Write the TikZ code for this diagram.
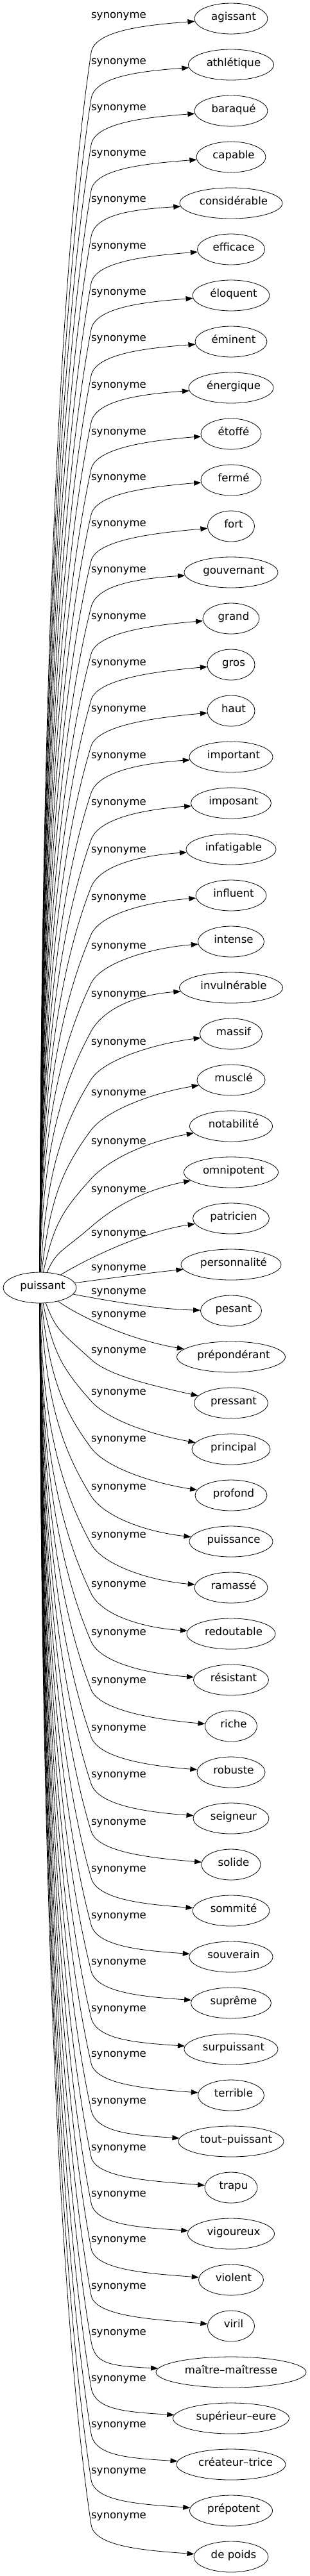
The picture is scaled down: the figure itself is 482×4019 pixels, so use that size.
\documentclass[tikz,border=0pt]{standalone}
\usepackage{fontspec}
\setmainfont{DejaVu Sans}
\usetikzlibrary{shapes.geometric,arrows.meta,calc}
\tikzset{
  every node/.style={font=\fontsize{16.6pt}{20pt}\selectfont},
  syn/.style={draw, ellipse, line width=0.8pt, minimum height=48pt, inner sep=0pt},
  wtxt/.style={inner sep=0pt, text height=0.75em, text depth=0.203em},
  lab/.style={inner sep=0pt, text height=0.75em, text depth=0.203em},
  synedge/.style={line width=0.8pt, -{Triangle[length=11pt,width=8pt]}},
}
% target node: k, width, text, text shift
\newcommand{\tgt}[4]{%
  \node[syn, minimum width=#2pt, label={[wtxt, xshift=#4pt]center:#3}] (n#1) at (360,{29+72*#1}) {};}
% edge label: k, y
\newcommand{\lbl}[2]{\node[lab] (l#1) at (185,#2) {synonyme};}
% generic connector: k, bend y, side (-1 top, 1 bottom)
\newcommand{\gedge}[3]{%
  \pgfmathsetmacro{\yz}{2009+24*#3}%
  \pgfmathsetmacro{\DD}{#3*(#2-\yz)}%
  \pgfmathsetmacro{\ww}{max(0,1-\DD/400)}%
  \pgfmathsetmacro{\cax}{64+31*\ww}%
  \pgfmathsetmacro{\cay}{\yz+#3*0.5*\DD}%
  \pgfmathsetmacro{\tv}{0.15*\DD+30}%
  \pgfmathsetmacro{\cby}{#2-#3*\tv}%
  \pgfmathsetmacro{\ang}{atan2(\tv,47)}%
  \pgfmathsetmacro{\ccx}{142+35*cos(\ang)}%
  \pgfmathsetmacro{\ccy}{#2+#3*35*sin(\ang)}%
  \pgfmathsetmacro{\dyo}{-#3*(10+25*\ww)}%
  \coordinate (b#1) at (142,#2);
  \draw[synedge] (p) .. controls (\cax,\cay) and (95,\cby) .. (b#1)
     .. controls (\ccx,\ccy) and ($(n#1.west)+(-75,\dyo)$) .. (n#1);}
\begin{document}
\begin{tikzpicture}[x=1pt,y=-1pt]
\useasboundingbox (0,0) rectangle (482,4019);
\node[syn, minimum width=114pt, label={[wtxt, xshift=4.5pt]center:puissant}] (p) at (62,2009) {};
\tgt{0}{114}{agissant}{4}
\tgt{1}{133}{athlétique}{4}
\tgt{2}{114}{baraqué}{4}
\tgt{3}{108}{capable}{4}
\tgt{4}{160}{considérable}{4}
\tgt{5}{105}{efficace}{4}
\tgt{6}{120}{éloquent}{4}
\tgt{7}{112}{éminent}{4}
\tgt{8}{132}{énergique}{4}
\tgt{9}{94}{étoffé}{4}
\tgt{10}{94}{fermé}{4}
\tgt{11}{73}{fort}{4}
\tgt{12}{146}{gouvernant}{4}
\tgt{13}{88}{grand}{4}
\tgt{14}{74}{gros}{4}
\tgt{15}{74}{haut}{4}
\tgt{16}{130}{important}{4}
\tgt{17}{125}{imposant}{4}
\tgt{18}{140}{infatigable}{4}
\tgt{19}{110}{influent}{4}
\tgt{20}{103}{intense}{4}
\tgt{21}{161}{invulnérable}{4}
\tgt{22}{97}{massif}{4}
\tgt{23}{106}{musclé}{4}
\tgt{24}{129}{notabilité}{4}
\tgt{25}{147}{omnipotent}{4}
\tgt{26}{119}{patricien}{4}
\tgt{27}{156}{personnalité}{4}
\tgt{28}{95}{pesant}{4}
\tgt{29}{169}{prépondérant}{4}
\tgt{30}{115}{pressant}{4}
\tgt{31}{122}{principal}{4}
\tgt{32}{112}{profond}{4}
\tgt{33}{130}{puissance}{4}
\tgt{34}{114}{ramassé}{4}
\tgt{35}{138}{redoutable}{4}
\tgt{36}{117}{résistant}{4}
\tgt{37}{81}{riche}{4}
\tgt{38}{106}{robuste}{4}
\tgt{39}{118}{seigneur}{4}
\tgt{40}{92}{solide}{4}
\tgt{41}{120}{sommité}{4}
\tgt{42}{130}{souverain}{4}
\tgt{43}{125}{suprême}{4}
\tgt{44}{146}{surpuissant}{4}
\tgt{45}{103}{terrible}{4}
\tgt{46}{164}{tout–puissant}{8}
\tgt{47}{82}{trapu}{4}
\tgt{48}{135}{vigoureux}{4}
\tgt{49}{101}{violent}{4}
\tgt{50}{73}{viril}{4}
\tgt{51}{234}{maître–maîtresse}{0}
\tgt{52}{181}{supérieur–eure}{8}
\tgt{53}{170}{créateur–trice}{7}
\tgt{54}{129}{prépotent}{4}
\tgt{55}{116}{de poids}{4}
% labels
\lbl{0}{26}\lbl{1}{98}\lbl{2}{170}\lbl{3}{241}\lbl{4}{313}\lbl{5}{386}
\lbl{6}{458}\lbl{7}{530}\lbl{8}{603}\lbl{9}{676}\lbl{10}{747}\lbl{11}{819}
\lbl{12}{891}\lbl{13}{964}\lbl{14}{1036}\lbl{15}{1108}\lbl{16}{1181}\lbl{17}{1254}
\lbl{18}{1328}\lbl{19}{1402}\lbl{20}{1478}\lbl{21}{1553}\lbl{22}{1628}\lbl{23}{1707}
\lbl{24}{1783}\lbl{25}{1858}\lbl{26}{1926}\lbl{27}{1980}\lbl{28}{2017}\lbl{29}{2053}
\lbl{30}{2109}\lbl{31}{2174}\lbl{32}{2247}\lbl{33}{2322}\lbl{34}{2397}\lbl{35}{2474}
\lbl{36}{2549}\lbl{37}{2624}\lbl{38}{2698}\lbl{39}{2771}\lbl{40}{2845}\lbl{41}{2918}
\lbl{42}{2991}\lbl{43}{3063}\lbl{44}{3136}\lbl{45}{3207}\lbl{46}{3280}\lbl{47}{3353}
\lbl{48}{3425}\lbl{49}{3496}\lbl{50}{3569}\lbl{51}{3641}\lbl{52}{3713}\lbl{53}{3785}
\lbl{54}{3857}\lbl{55}{3927}
% connectors above
\gedge{0}{82}{-1}\gedge{1}{154}{-1}\gedge{2}{226}{-1}\gedge{3}{297}{-1}
\gedge{4}{369}{-1}\gedge{5}{442}{-1}\gedge{6}{514}{-1}\gedge{7}{586}{-1}
\gedge{8}{659}{-1}\gedge{9}{732}{-1}\gedge{10}{803}{-1}\gedge{11}{875}{-1}
\gedge{12}{947}{-1}\gedge{13}{1020}{-1}\gedge{14}{1092}{-1}\gedge{15}{1164}{-1}
\gedge{16}{1237}{-1}\gedge{17}{1310}{-1}\gedge{18}{1384}{-1}\gedge{19}{1458}{-1}
\gedge{20}{1534}{-1}\gedge{21}{1609}{-1}\gedge{22}{1684}{-1}\gedge{23}{1763}{-1}
\gedge{24}{1839}{-1}\gedge{25}{1914}{-1}
% connectors near the source
\draw[synedge] (p) .. controls (130,1967) and (220,1922) .. (n26);
\draw[synedge] (p) .. controls (180,1993) and (240,1985) .. (n27);
\draw[synedge] (p) .. controls (170,2030) and (250,2043) .. (n28);
\draw[synedge] (p) .. controls (120,2052) and (200,2090) .. (n29);
% connectors below
\gedge{30}{2121}{1}\gedge{31}{2186}{1}\gedge{32}{2259}{1}\gedge{33}{2334}{1}
\gedge{34}{2409}{1}\gedge{35}{2486}{1}\gedge{36}{2561}{1}\gedge{37}{2636}{1}
\gedge{38}{2710}{1}\gedge{39}{2783}{1}\gedge{40}{2857}{1}\gedge{41}{2930}{1}
\gedge{42}{3003}{1}\gedge{43}{3075}{1}\gedge{44}{3148}{1}\gedge{45}{3219}{1}
\gedge{46}{3292}{1}\gedge{47}{3365}{1}\gedge{48}{3437}{1}\gedge{49}{3508}{1}
\gedge{50}{3581}{1}\gedge{51}{3653}{1}\gedge{52}{3725}{1}\gedge{53}{3797}{1}
\gedge{54}{3869}{1}\gedge{55}{3939}{1}
\end{tikzpicture}
\end{document}
